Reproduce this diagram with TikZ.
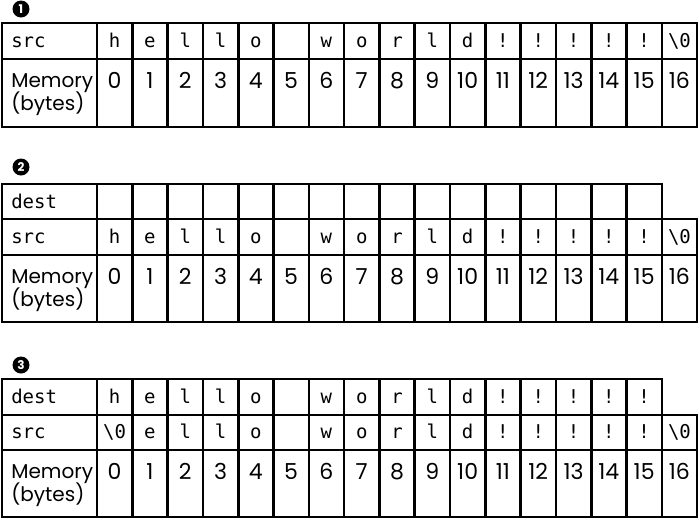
\documentclass[tikz,border=0pt]{standalone}
\usepackage{fontspec}
\setmainfont{Poppins}
\setmonofont{DejaVu Sans Mono}
\begin{document}
\begin{tikzpicture}[x=1pt,y=-1pt,line width=2.6pt,
		chr/.style={anchor=base,inner sep=0pt,font=\ttfamily\fontsize{19}{19}\selectfont},
		num/.style={anchor=base,inner sep=0pt,font=\fontsize{22}{22}\selectfont},
		lbl/.style={anchor=base west,inner sep=0pt,font=\fontsize{20}{20}\selectfont},
		marker/.style={circle,fill=black,text=white,inner sep=0pt,minimum size=17pt,font=\bfseries\fontsize{12}{12}\selectfont}]
		\useasboundingbox (0,0) rectangle (699,520);
		% first: src only
		\node[marker] (m1) at (21,9) {1};
		\draw (2,23) rectangle (697,127);
		\draw (2,59) -- (697,59);
		\foreach \i in {0,...,16}
			\draw ({97+35.3*\i},23) -- ({97+35.3*\i},127);
		\node[chr,anchor=base west] (src1) at (10,47) {src};
		\node[lbl] (mem1) at (10,87) {Memory};
		\node[lbl] (byt1) at (10,110) {(bytes)};
		\foreach \c [count=\i from 0] in {h,e,l,l,o,{},w,o,r,l,d,!,!,!,!,!,\textbackslash0}
			\node[chr] (s1-\i) at ({114.65+35.3*\i},47) {\c};
		\foreach \i in {0,...,16}
			\node[num] (n1-\i) at ({114.65+35.3*\i},88) {\i};
		% second: empty dest
		\node[marker] (m2) at (21,167) {2};
		\draw (2,184) rectangle (662,219);
		\draw (2,219) rectangle (697,322);
		\draw (2,255) -- (697,255);
		\foreach \i in {0,...,16}
			\draw ({97+35.3*\i},219) -- ({97+35.3*\i},322);
		\foreach \i in {0,...,15}
			\draw ({97+35.3*\i},184) -- ({97+35.3*\i},219);
		\node[chr,anchor=base west] (dst2) at (10,208) {dest};
		\node[chr,anchor=base west] (src2) at (10,243) {src};
		\node[lbl] (mem2) at (10,283) {Memory};
		\node[lbl] (byt2) at (10,306) {(bytes)};
		\foreach \c [count=\i from 0] in {h,e,l,l,o,{},w,o,r,l,d,!,!,!,!,!,\textbackslash0}
			\node[chr] (s2-\i) at ({114.65+35.3*\i},243) {\c};
		\foreach \i in {0,...,16}
			\node[num] (n2-\i) at ({114.65+35.3*\i},284) {\i};
		% third: after the copy
		\node[marker] (m3) at (21,365) {3};
		\draw (2,379) rectangle (662,415);
		\draw (2,415) rectangle (697,517);
		\draw (2,450) -- (697,450);
		\foreach \i in {0,...,16}
			\draw ({97+35.3*\i},415) -- ({97+35.3*\i},517);
		\foreach \i in {0,...,15}
			\draw ({97+35.3*\i},379) -- ({97+35.3*\i},415);
		\node[chr,anchor=base west] (dst3) at (10,403) {dest};
		\node[chr,anchor=base west] (src3) at (10,438) {src};
		\node[lbl] (mem3) at (10,478) {Memory};
		\node[lbl] (byt3) at (10,501) {(bytes)};
		\foreach \c [count=\i from 0] in {h,e,l,l,o,{},w,o,r,l,d,!,!,!,!,!}
			\node[chr] (d3-\i) at ({114.65+35.3*\i},403) {\c};
		\foreach \c [count=\i from 0] in {\textbackslash0,e,l,l,o,{},w,o,r,l,d,!,!,!,!,!,\textbackslash0}
			\node[chr] (s3-\i) at ({114.65+35.3*\i},438) {\c};
		\foreach \i in {0,...,16}
			\node[num] (n3-\i) at ({114.65+35.3*\i},479) {\i};
	\end{tikzpicture}
\end{document}
